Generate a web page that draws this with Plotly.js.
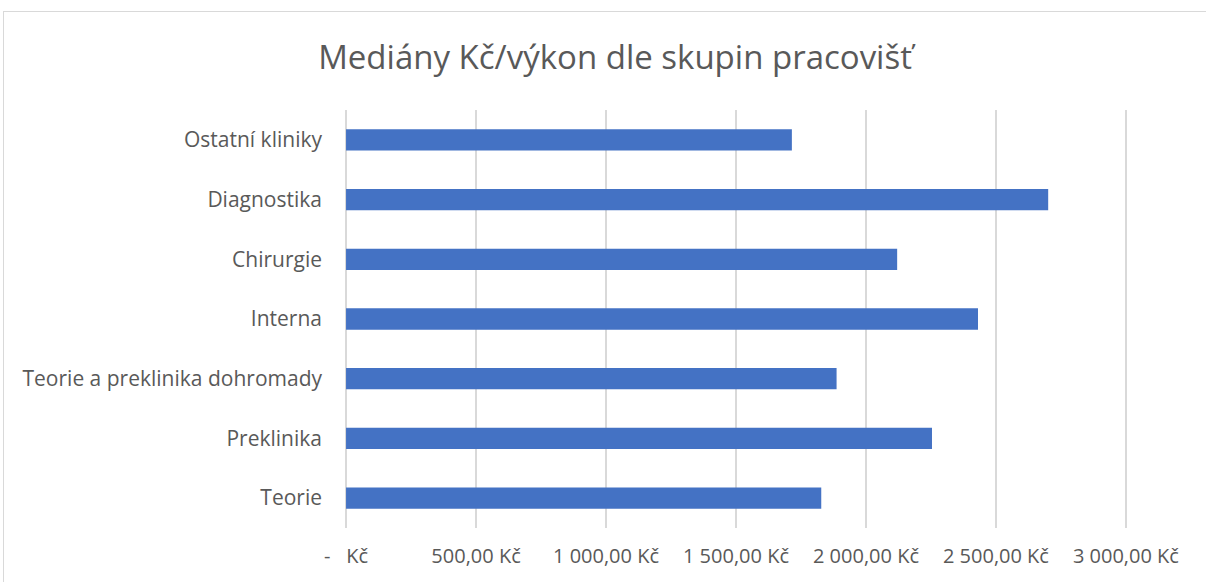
<!DOCTYPE html>
<html>
<head>
<meta charset="utf-8">
<script src="https://cdn.plot.ly/plotly-3.0.1.min.js"></script>
<style>
html,body{margin:0;padding:0;background:#fff;}
#wrap{position:relative;width:1206px;height:582px;overflow:hidden;}
#chart{position:absolute;left:0;top:0;width:1206px;height:582px;}
#frame{position:absolute;left:3px;top:11px;width:1220px;height:600px;border:1px solid #d9d9d9;pointer-events:none;}
</style>
</head>
<body>
<div id="wrap"><div id="chart"></div><div id="frame"></div></div>
<script>
const categories = ["Teorie", "Preklinika", "Teorie a preklinika dohromady", "Interna", "Chirurgie", "Diagnostika", "Ostatní kliniky"];
const medians = [1828, 2254, 1887, 2431, 2120, 2701, 1715];
const tickValues = [0, 500, 1000, 1500, 2000, 2500, 3000];
const tickLabels = ["-   Kč", "500,00 Kč", "1 000,00 Kč", "1 500,00 Kč", "2 000,00 Kč", "2 500,00 Kč", "3 000,00 Kč"];

const fontFam = "'Open Sans', sans-serif";

Plotly.newPlot('chart', [{
  type: 'bar',
  orientation: 'h',
  y: categories,
  x: medians,
  marker: {color: '#4472C4'},
  hoverinfo: 'x+y'
}], {
  width: 1206, height: 582,
  margin: {l: 345, r: 78, t: 110, b: 54},
  paper_bgcolor: '#ffffff',
  plot_bgcolor: '#ffffff',
  bargap: 0.643,
  showlegend: false,
  title: {
    text: 'Mediány Kč/výkon dle skupin pracovišť',
    font: {family: fontFam, size: 33, color: '#595959'},
    x: 0.51, xanchor: 'center', xref: 'container',
    y: 0.902, yanchor: 'middle', yref: 'container'
  },
  xaxis: {
    range: [-4, 3008],
    tickvals: tickValues,
    ticktext: tickLabels,
    showgrid: true,
    gridcolor: '#d9d9d9',
    gridwidth: 1.5,
    zeroline: true,
    zerolinecolor: '#d9d9d9',
    zerolinewidth: 1.5,
    showline: false,
    ticks: '',
    ticklabelstandoff: 14,
    tickfont: {family: fontFam, size: 20, color: '#595959'},
    fixedrange: true
  },
  yaxis: {
    type: 'category',
    showgrid: false,
    zeroline: false,
    showline: false,
    ticks: '',
    ticklabelstandoff: 22,
    tickfont: {family: fontFam, size: 21, color: '#595959'},
    fixedrange: true
  }
}, {displayModeBar: false, staticPlot: true});
</script>
</body>
</html>
